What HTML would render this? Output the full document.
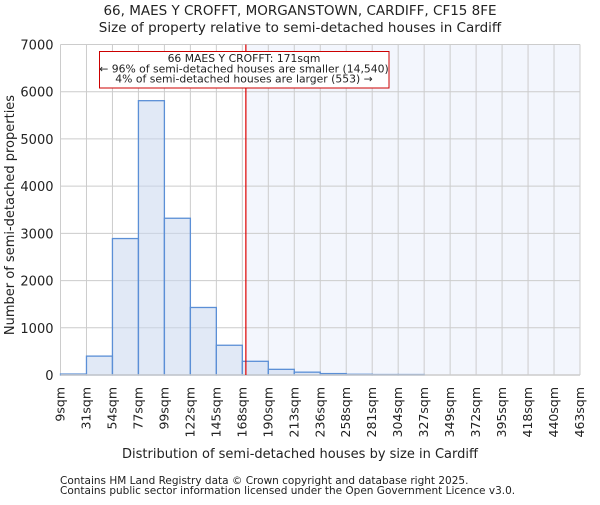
<!DOCTYPE html>
<html><head><meta charset="utf-8"><style>
body{margin:0;background:#fff;}
svg text{font-family:"DejaVu Sans","Liberation Sans",sans-serif;fill:#222;}
</style></head><body>
<svg id="chart" width="600" height="500" xmlns="http://www.w3.org/2000/svg">
<text x="300" y="15" text-anchor="middle" font-size="13.5">66, MAES Y CROFFT, MORGANSTOWN, CARDIFF, CF15 8FE</text>
<text x="300" y="32" text-anchor="middle" font-size="13.5">Size of property relative to semi-detached houses in Cardiff</text>
<g id="plot"></g>
<text x="300" y="458" text-anchor="middle" font-size="13">Distribution of semi-detached houses by size in Cardiff</text>
<text transform="translate(14,215) rotate(-90)" text-anchor="middle" font-size="13">Number of semi-detached properties</text>
<text x="60" y="484" font-size="10.5" fill="#444">Contains HM Land Registry data © Crown copyright and database right 2025.</text>
<text x="60" y="494" font-size="10.5" fill="#444">Contains public sector information licensed under the Open Government Licence v3.0.</text>
</svg>
<script>
const binLabels=["9sqm","31sqm","54sqm","77sqm","99sqm","122sqm","145sqm","168sqm","190sqm","213sqm","236sqm","258sqm","281sqm","304sqm","327sqm","349sqm","372sqm","395sqm","418sqm","440sqm","463sqm"];
const counts=[20,400,2890,5810,3320,1430,630,290,120,60,30,15,10,10,0,0,0,0,0,0];
const yTicks=[0,1000,2000,3000,4000,5000,6000,7000];
const markerValue=171;
const binStart=9, binWidth=22.7;
const X0=60.5,X1=580,Y0=375,Y1=44.5,YMAX=7000;
const NS="http://www.w3.org/2000/svg";
const g=document.getElementById('plot');
const bw=(X1-X0)/counts.length;
const x=i=>X0+i*bw;
const xv=v=>X0+(v-binStart)/binWidth*bw;
const y=v=>Y0-v/YMAX*(Y0-Y1);
function mk(t,a){const e=document.createElementNS(NS,t);for(const k in a)e.setAttribute(k,a[k]);g.appendChild(e);return e;}
const mx=xv(markerValue);
let e=mk('rect',{x:mx,y:Y1,width:X1-mx,height:Y0-Y1,fill:'#f3f6fd'});


for(let i=0;i<=counts.length;i++){e=mk('line',{x1:x(i),x2:x(i),y1:Y1,y2:Y0,stroke:'#ccc','stroke-width':1});

}
yTicks.forEach(t=>{e=mk('line',{x1:X0,x2:X1,y1:y(t),y2:y(t),stroke:'#ccc','stroke-width':1});


const tx=mk('text',{x:X0-7,y:y(t)+5,'text-anchor':'end','font-size':'13'});tx.textContent=t;

});
counts.forEach((c,i)=>{if(c<=0)return;const b=mk('rect',{x:x(i),y:y(c),width:bw,height:Y0-y(c),fill:'rgba(200,215,238,0.55)',stroke:'#5b8fd6','stroke-width':1.3});

});
e=mk('line',{x1:X0,x2:X1,y1:Y0,y2:Y0,stroke:'#ccc','stroke-width':1.5});


binLabels.forEach((l,i)=>{const t=mk('text',{transform:`translate(${x(i)+4},387) rotate(-90)`,'text-anchor':'end','font-size':'12.5'});t.textContent=l;

});
e=mk('line',{x1:mx,x2:mx,y1:Y1,y2:Y0,stroke:'#d00','stroke-width':1.2});


e=mk('rect',{x:99.5,y:51.5,width:289.5,height:36.5,fill:'#fff',stroke:'#c00','stroke-width':1});


["66 MAES Y CROFFT: 171sqm","← 96% of semi-detached houses are smaller (14,540)","4% of semi-detached houses are larger (553) →"].forEach((s,i)=>{const t=mk('text',{x:244,y:62+i*10.3,'text-anchor':'middle','font-size':'10.8'});t.textContent=s;

});
</script>
</body></html>
